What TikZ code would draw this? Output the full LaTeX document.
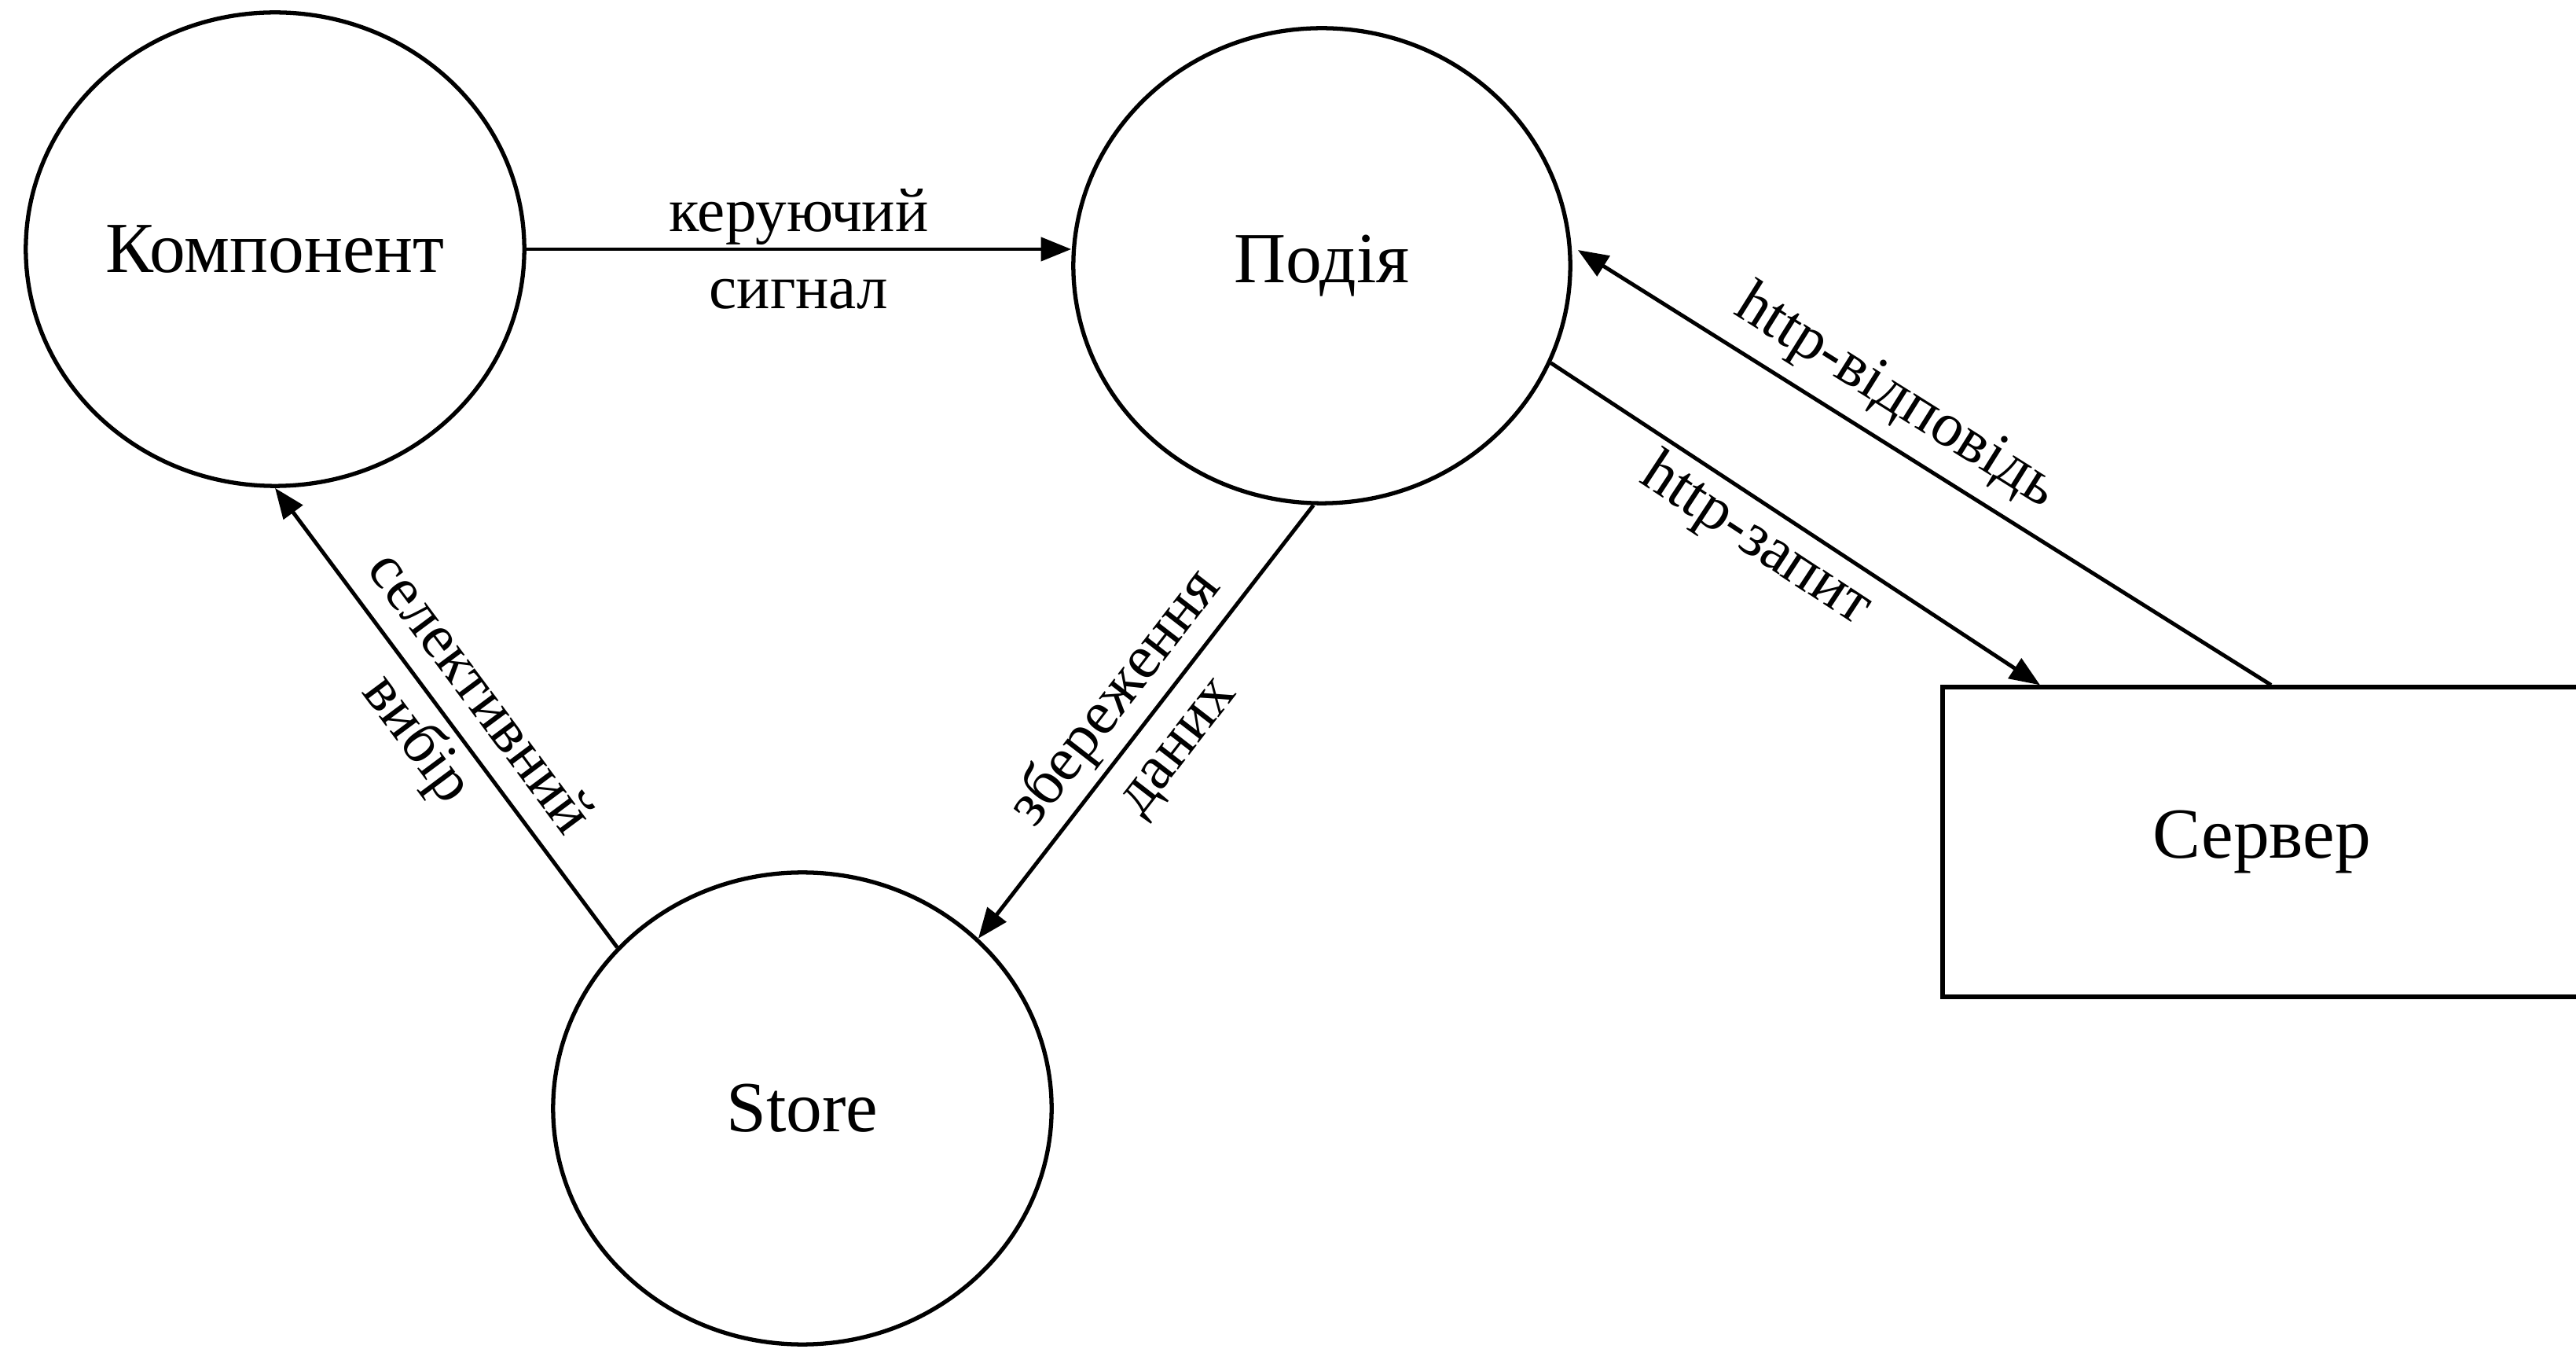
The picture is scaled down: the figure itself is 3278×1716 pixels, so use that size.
\documentclass[tikz,border=0pt]{standalone}
\usepackage{fontspec}
\setmainfont{Liberation Serif}
\usetikzlibrary{arrows.meta,shapes.geometric,calc}
\begin{document}
\begin{tikzpicture}[x=0.01cm,y=-0.01cm,
  proc/.style={ellipse, draw, line width=1.5pt, minimum width=6.34cm, minimum height=6.02cm, inner sep=0pt, font=\fontsize{26}{31}\selectfont},
  ext/.style={rectangle, draw, line width=1.7pt, minimum width=8.12cm, minimum height=3.93cm, inner sep=0pt, font=\fontsize{26}{31}\selectfont},
  flow/.style={line width=1.4pt, -{Triangle[length=11pt,width=8.5pt]}},
  lbl/.style={font=\fontsize{22.5}{28}\selectfont, align=center, inner sep=0pt}
]
\useasboundingbox (0,0) rectangle (3278,1716);
\node[proc] (komp) at (350,317) {Компонент};
\node[proc, minimum width=6.32cm, minimum height=6.04cm] (podia) at (1682,338) {Подія};
\node[proc, minimum height=6.0cm] (store) at (1021,1410) {Store};
\node[ext] (server) at (2878,1071) {Сервер};

\draw[flow] (komp.east) -- (komp.east -| podia.west) node[lbl, midway] {керуючий\\сигнал};
\draw[flow] ($(server.north)+(12,0)$) -- ($(podia.east)+(7,-20)$) node[lbl, pos=0.575, sloped, above=0.17cm] {http-відповідь};
\draw[flow] (podia.-23.4) -- ($(server.north)+(-282,0)$) node[lbl, pos=0.46, sloped, below=0.08cm] {http-запит};
\draw[flow] (store.139) -- (komp.south) node[lbl, midway, sloped] {селективний\\вибір};
\draw[flow] (podia.-92) -- (store.44) node[lbl, midway, sloped] {збереження\\даних};
\end{tikzpicture}
\end{document}
